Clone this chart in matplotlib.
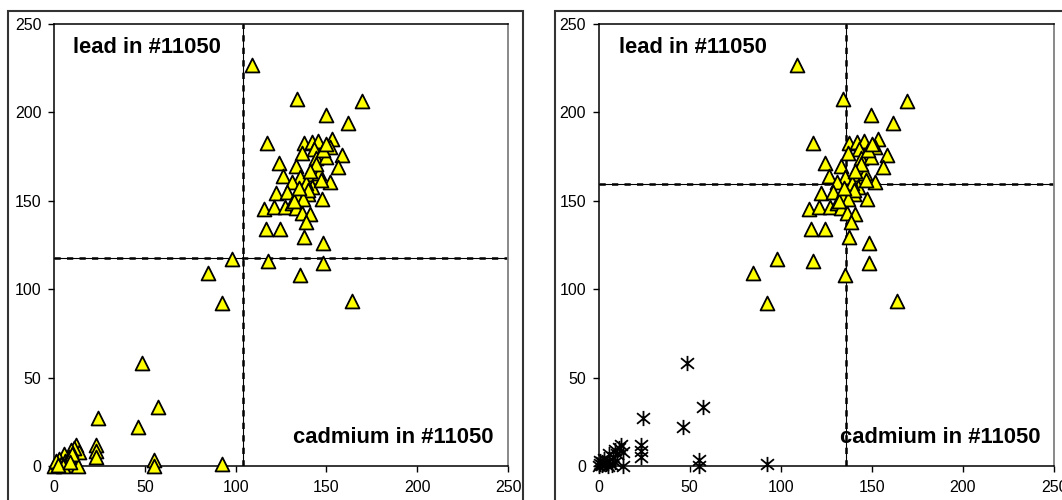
import matplotlib
matplotlib.use("Agg")
import matplotlib.pyplot as plt
from matplotlib.patches import Rectangle
from matplotlib.path import Path

plt.rcParams['font.family'] = ['Liberation Sans', 'DejaVu Sans']

# cadmium (x) and lead (y) values - upper group
hi_x = [108.9, 134.0, 169.4, 149.6, 161.7, 117.5, 137.7, 141.9, 145.6, 153.3,
        152.0, 143.2, 136.7, 158.4, 144.3, 149.8, 124.1, 133.1, 156.2, 126.3,
        135.5, 141.9, 145.6, 130.9, 152.0, 122.2, 128.5, 133.6, 140.0, 142.2,
        147.4, 115.6, 121.1, 127.2, 130.9, 133.3, 136.4, 141.0, 138.6, 116.7,
        124.4, 137.7, 148.3, 97.8, 117.7, 148.3, 85.0, 135.5, 92.3, 163.9,
        139.0, 143.0, 146.0, 140.0, 147.0, 144.0, 148.0, 150.0, 141.0, 137.0,
        132.0, 135.0]
hi_y = [226.8, 207.4, 206.4, 198.5, 194.2, 182.5, 182.5, 183.4, 184.0, 184.9,
        180.3, 179.1, 176.9, 175.9, 174.0, 174.6, 171.2, 169.7, 168.9, 164.2,
        163.3, 165.2, 163.6, 160.8, 160.8, 154.2, 155.2, 153.3, 153.8, 158.0,
        150.8, 145.4, 146.3, 146.7, 148.6, 145.8, 142.9, 142.5, 138.2, 134.0,
        134.0, 129.4, 126.3, 117.1, 116.1, 115.0, 109.3, 108.0, 92.4, 93.5,
        160.0, 168.0, 166.0, 156.0, 162.0, 171.0, 179.0, 182.0, 167.0, 151.0,
        150.0, 157.0]

# lower group
lo_x = [48.4, 57.1, 24.2, 46.2, 23.3, 23.3, 23.3, 12.1, 13.6, 11.0, 9.3, 5.6,
        7.4, 13.4, 0.9, 0.0, 2.0, 3.0, 1.0, 4.0, 6.0, 8.0, 10.0, 54.9, 54.9,
        92.3, 5.0, 2.0, 9.0]
lo_y = [58.5, 33.6, 27.0, 22.3, 11.9, 8.5, 4.9, 11.9, 8.1, 10.0, 9.0, 6.8,
        0.6, 0.0, 1.1, 0.0, 2.0, 4.0, 3.0, 1.0, 3.0, 5.0, 7.0, 3.4, 0.0,
        1.1, 0.0, 0.5, 2.0]

# reference lines (x, y) for each panel
left_ref = (103.9, 117.5)
right_ref = (136.0, 159.7)

ticks = [0, 50, 100, 150, 200, 250]
label_top = "lead in #11050"
label_bot = "cadmium in #11050"

W, H = 1062, 500
fig = plt.figure(figsize=(W / 100, H / 100), dpi=100)
fig.patch.set_facecolor('white')

# outer chart-area borders
fig.patches.append(Rectangle((8 / W, -0.05), (523 - 8) / W, 1.05 - 11 / H,
                             transform=fig.transFigure, fill=False,
                             edgecolor='#333333', lw=1.5, zorder=0))
fig.patches.append(Rectangle((555 / W, -0.05), 0.6, 1.05 - 11 / H,
                             transform=fig.transFigure, fill=False,
                             edgecolor='#333333', lw=1.5, zorder=0))

ax1 = fig.add_axes([54 / W, 34 / H, 454 / W, 442 / H])
ax2 = fig.add_axes([598.5 / W, 34 / H, 455.5 / W, 442 / H])

star = Path([(0, -1), (0, 1), (-0.85, -0.7), (0.85, 0.7), (-0.85, 0.7), (0.85, -0.7)],
            [Path.MOVETO, Path.LINETO, Path.MOVETO, Path.LINETO, Path.MOVETO, Path.LINETO])

tri_kw = dict(marker='^', s=100, facecolor='#FFFF00', edgecolor='black',
              linewidths=1.3, zorder=3, clip_on=False)

for ax, ref in ((ax1, left_ref), (ax2, right_ref)):
    ax.set_xlim(0, 250)
    ax.set_ylim(0, 250)
    ax.set_xticks(ticks)
    ax.set_yticks(ticks)
    ax.tick_params(direction='out', length=4, width=1, labelsize=11.5,
                   colors='black')
    ax.tick_params(axis='y', pad=5)
    ax.tick_params(axis='x', pad=6)
    for s in ('left', 'bottom', 'top'):
        ax.spines[s].set_color('black')
        ax.spines[s].set_linewidth(1.1)
    ax.spines['right'].set_color('#808080')
    ax.spines['right'].set_linewidth(1.3)
    rx, ry = ref
    ax.axvline(rx, color='black', lw=0.8, zorder=2)
    ax.axvline(rx, color='black', lw=1.8, ls=(0, (2.5, 2.5)), zorder=2)
    ax.axhline(ry, color='black', lw=0.8, zorder=2)
    ax.axhline(ry, color='black', lw=1.8, ls=(0, (2.5, 2.5)), zorder=2)
    ax.text(0.042 if ax is ax1 else 0.045, 0.934, label_top, transform=ax.transAxes,
            fontsize=15.8, fontweight='bold', ha='left', va='baseline', zorder=4)
    ax.text(0.969 if ax is ax1 else 0.971, 0.052, label_bot, transform=ax.transAxes,
            fontsize=15.8, fontweight='bold', ha='right', va='baseline', zorder=4)

ax1.scatter(hi_x, hi_y, **tri_kw)
ax1.scatter(lo_x, lo_y, **tri_kw)
ax2.scatter(hi_x, hi_y, **tri_kw)
ax2.scatter(lo_x, lo_y, marker=star, s=120, color='black', linewidths=1.3,
            zorder=3, clip_on=False)

fig.savefig('out.png', dpi=100)
